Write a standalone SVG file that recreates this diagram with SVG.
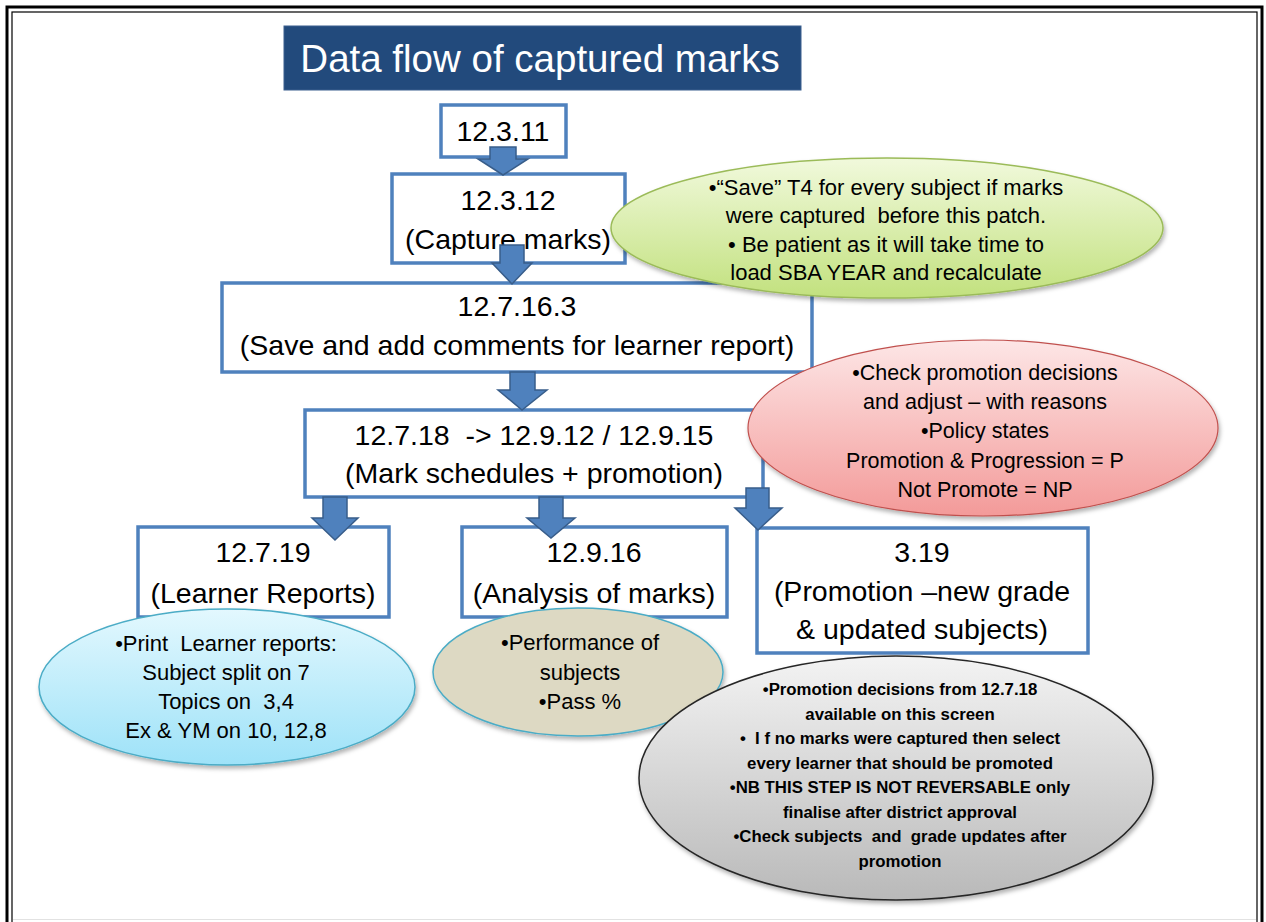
<svg xmlns="http://www.w3.org/2000/svg" width="1266" height="922" viewBox="0 0 1266 922">
  <style>
    .box { fill: #ffffff; stroke: #4F81BD; stroke-width: 3.5; }
    .bt { font-family: "Liberation Sans", Arial, sans-serif; font-size: 28.5px; fill: #000; text-anchor: middle; }
    .nt { font-family: "Liberation Sans", Arial, sans-serif; font-size: 21.5px; fill: #000; text-anchor: middle; }
    .nt2 { font-family: "Liberation Sans", Arial, sans-serif; font-size: 22px; fill: #000; text-anchor: middle; }
    .gt { font-family: "Liberation Sans", Arial, sans-serif; font-size: 16.8px; font-weight: bold; fill: #000; text-anchor: middle; }
    .arrow { fill: #4F81BD; stroke: #385D8A; stroke-width: 1.5; stroke-linejoin: miter; }
  </style>
  <defs>
    <linearGradient id="gGreen" x1="0" y1="0" x2="0" y2="1">
      <stop offset="0" stop-color="#F1F9DC"/>
      <stop offset="1" stop-color="#C2E17E"/>
    </linearGradient>
    <linearGradient id="gRed" x1="0" y1="0" x2="0" y2="1">
      <stop offset="0" stop-color="#FDE6E6"/>
      <stop offset="1" stop-color="#F39A99"/>
    </linearGradient>
    <linearGradient id="gBlue" x1="0" y1="0" x2="0" y2="1">
      <stop offset="0" stop-color="#E3F8FE"/>
      <stop offset="1" stop-color="#9EE2F8"/>
    </linearGradient>
    <linearGradient id="gGray" x1="0" y1="0" x2="0" y2="1">
      <stop offset="0" stop-color="#F3F3F3"/>
      <stop offset="1" stop-color="#B9B9B9"/>
    </linearGradient>
    <filter id="sh" x="-10%" y="-10%" width="125%" height="130%">
      <feDropShadow dx="1.5" dy="3" stdDeviation="2" flood-color="#000" flood-opacity="0.3"/>
    </filter>
  </defs>

  <rect x="0" y="0" width="1266" height="922" fill="#ffffff"/>
  <!-- page border -->
  <g id="border" fill="none" stroke="#000">
    <rect x="7" y="7" width="1255" height="960" stroke-width="3"/>
    <rect x="12" y="12" width="1245" height="950" stroke-width="1.2"/>
    <line x1="13" y1="919.5" x2="1256" y2="919.5" stroke="#E2E2E2" stroke-width="1"/>
  </g>

  <!-- title -->
  <g id="title">
    <rect x="284" y="26" width="517" height="64" fill="#224A7C" stroke="#3A5F8E" stroke-width="1"/>
    <text x="540" y="72" font-family="'Liberation Sans', Arial, sans-serif" font-size="38.5" fill="#ffffff" text-anchor="middle">Data flow of captured marks</text>
  </g>

  <!-- process boxes -->
  <g id="n12_3_11">
    <rect class="box" x="441" y="105" width="125" height="52"/>
    <text class="bt" x="503" y="141">12.3.11</text>
  </g>
  <g id="n12_3_12">
    <rect class="box" x="392" y="174" width="233" height="89"/>
    <text class="bt" x="508" y="210">12.3.12</text>
    <text class="bt" x="508" y="249">(Capture marks)</text>
  </g>
  <g id="n12_7_16_3">
    <rect class="box" x="222" y="283" width="590" height="89"/>
    <text class="bt" x="517" y="316">12.7.16.3</text>
    <text class="bt" x="517" y="355">(Save and add comments for learner report)</text>
  </g>
  <g id="n12_7_18">
    <rect class="box" x="305" y="410" width="458" height="87"/>
    <text class="bt" x="534" y="445" xml:space="preserve">12.7.18  -&gt; 12.9.12 / 12.9.15</text>
    <text class="bt" x="534" y="483">(Mark schedules + promotion)</text>
  </g>
  <g id="n12_7_19">
    <rect class="box" x="138" y="527" width="251" height="90"/>
    <text class="bt" x="263" y="562">12.7.19</text>
    <text class="bt" x="263" y="603">(Learner Reports)</text>
  </g>
  <g id="n12_9_16">
    <rect class="box" x="462" y="527" width="265" height="90"/>
    <text class="bt" x="594" y="562">12.9.16</text>
    <text class="bt" x="594" y="603">(Analysis of marks)</text>
  </g>
  <g id="n3_19">
    <rect class="box" x="757" y="528" width="331" height="125"/>
    <text class="bt" x="922" y="562">3.19</text>
    <text class="bt" x="922" y="601">(Promotion –new grade</text>
    <text class="bt" x="922" y="639">&amp; updated subjects)</text>
  </g>

  <!-- connectors (block arrows) -->
  <g id="connectors">
    <path class="arrow" d="M490,147 H516 V159 H528 L503,175 L478,159 H490 Z"/>
    <path class="arrow" d="M500,245 H524 V263 H532 L512,284 L492,263 H500 Z"/>
    <path class="arrow" d="M510,372 H535 V390 H547 L522,410 L498,390 H510 Z"/>
    <path class="arrow" d="M323,497 H347 V518 H358 L335,540 L312,518 H323 Z"/>
    <path class="arrow" d="M539,497 H563 V518 H575 L551,538 L527,518 H539 Z"/>
    <path class="arrow" d="M746,488 H769 V508 H782 L758,530 L735,508 H746 Z"/>
  </g>

  <!-- callout notes -->
  <g id="note_capture">
    <ellipse cx="887" cy="228" rx="276" ry="70" fill="url(#gGreen)" stroke="#9BBB59" stroke-width="1.5" filter="url(#sh)"/>
    <text class="nt2" x="886" y="195">•“Save” T4 for every subject if marks</text>
    <text class="nt2" x="886" y="223" xml:space="preserve">were captured  before this patch.</text>
    <text class="nt2" x="886" y="252">• Be patient as it will take time to</text>
    <text class="nt2" x="886" y="280">load SBA YEAR and recalculate</text>
  </g>
  <g id="note_promotion">
    <ellipse cx="983" cy="428" rx="235" ry="88" fill="url(#gRed)" stroke="#C0504D" stroke-width="1.2" filter="url(#sh)"/>
    <text class="nt" x="985" y="380">•Check promotion decisions</text>
    <text class="nt" x="985" y="409">and adjust – with reasons</text>
    <text class="nt" x="985" y="438">•Policy states</text>
    <text class="nt" x="985" y="468">Promotion &amp; Progression = P</text>
    <text class="nt" x="985" y="497">Not Promote = NP</text>
  </g>
  <g id="note_reports">
    <ellipse cx="227" cy="687" rx="188" ry="78" fill="url(#gBlue)" stroke="#4BACC6" stroke-width="1.5" filter="url(#sh)"/>
    <text class="nt2" x="226" y="651" xml:space="preserve">•Print  Learner reports:</text>
    <text class="nt2" x="226" y="680">Subject split on 7</text>
    <text class="nt2" x="226" y="709" xml:space="preserve">Topics on  3,4</text>
    <text class="nt2" x="226" y="738">Ex &amp; YM on 10, 12,8</text>
  </g>
  <g id="note_analysis">
    <ellipse cx="578" cy="672" rx="145" ry="64" fill="#DDD9C3" stroke="#4BACC6" stroke-width="1.5" filter="url(#sh)"/>
    <text class="nt2" x="580" y="650">•Performance of</text>
    <text class="nt2" x="580" y="680">subjects</text>
    <text class="nt2" x="580" y="709">•Pass %</text>
  </g>
  <g id="note_final">
    <ellipse cx="896" cy="778" rx="257" ry="122" fill="url(#gGray)" stroke="#262626" stroke-width="1.5" filter="url(#sh)"/>
    <text class="gt" x="900" y="695">•Promotion decisions from 12.7.18</text>
    <text class="gt" x="900" y="719.5">available on this screen</text>
    <text class="gt" x="900" y="744" xml:space="preserve">•  I f no marks were captured then select</text>
    <text class="gt" x="900" y="768.5">every learner that should be promoted</text>
    <text class="gt" x="900" y="793">•NB THIS STEP IS NOT REVERSABLE only</text>
    <text class="gt" x="900" y="817.5">finalise after district approval</text>
    <text class="gt" x="900" y="842" xml:space="preserve">•Check subjects  and  grade updates after</text>
    <text class="gt" x="900" y="866.5">promotion</text>
  </g>
</svg>
